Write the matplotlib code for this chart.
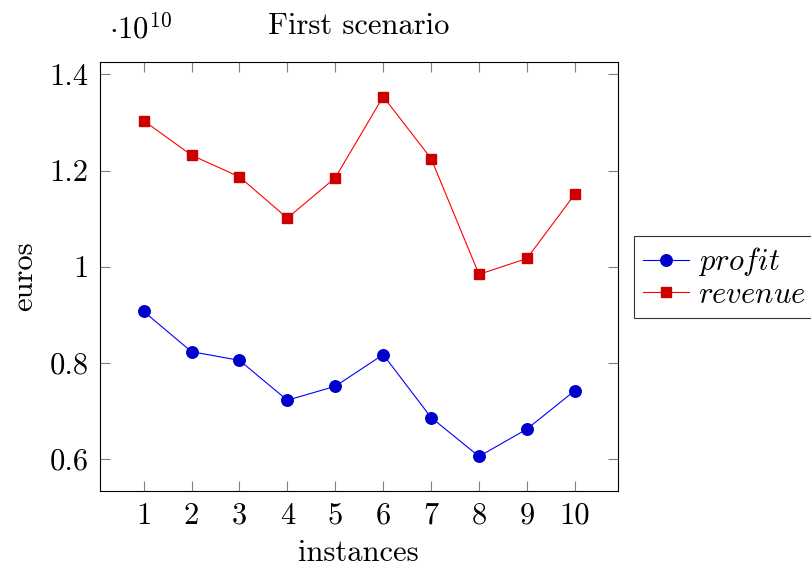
import numpy as np
import matplotlib
matplotlib.use('Agg')
import matplotlib.pyplot as plt

instances = [1, 2, 3, 4, 5, 6, 7, 8, 9, 10]
profit = [0.907, 0.823, 0.805, 0.722, 0.751, 0.817, 0.686, 0.605, 0.662, 0.742]
revenue = [1.304, 1.232, 1.187, 1.101, 1.185, 1.354, 1.225, 0.984, 1.017, 1.151]
yticks = [0.6, 0.8, 1.0, 1.2, 1.4]
ytick_labels = ['0.6', '0.8', '1', '1.2', '1.4']

plt.rcParams['font.family'] = 'serif'
plt.rcParams['font.serif'] = ['cmr10']
plt.rcParams['mathtext.fontset'] = 'cm'
plt.rcParams['axes.unicode_minus'] = False

fs = 22
fig = plt.figure(figsize=(8.11, 5.67), dpi=100)
ax = fig.add_axes([0.1227, 0.134, 0.762 - 0.1227, 0.8915 - 0.134])

ax.plot(instances, profit, color='#0000ff', lw=0.8, marker='o', ms=8.3,
        mfc='#0000cc', mec='#0000cc', label='$profit$')
ax.plot(instances, revenue, color='#ff0000', lw=0.8, marker='s', ms=7.3,
        mfc='#cc0000', mec='#cc0000', label='$revenue$')

ax.set_xlim(0.08, 10.9)
ax.set_ylim(0.533, 1.427)
ax.set_xticks(instances)
ax.set_xticklabels([str(i) for i in instances])
ax.set_yticks(yticks)
ax.set_yticklabels(ytick_labels)
ax.tick_params(direction='in', length=7, width=0.8, color='#808080',
               labelsize=fs, top=True, right=True, pad=8)
for s in ax.spines.values():
    s.set_linewidth(0.8)

ax.set_xlabel('instances', fontsize=fs, labelpad=7)
ax.set_ylabel('euros', fontsize=fs, labelpad=8)
ax.set_title('First scenario', fontsize=fs, pad=20)
ax.text(0.018, 1.04, r'$\cdot 10^{10}$', transform=ax.transAxes, fontsize=fs,
        ha='left', va='bottom')

leg = ax.legend(loc='center left', bbox_to_anchor=(1.03, 0.498), fontsize=fs,
                frameon=True, fancybox=False, edgecolor='black',
                handlelength=1.5, handletextpad=0.3, borderpad=0.3,
                labelspacing=0.1, borderaxespad=0)
leg.get_frame().set_linewidth(0.8)

fig.savefig('out.png', dpi=100)
